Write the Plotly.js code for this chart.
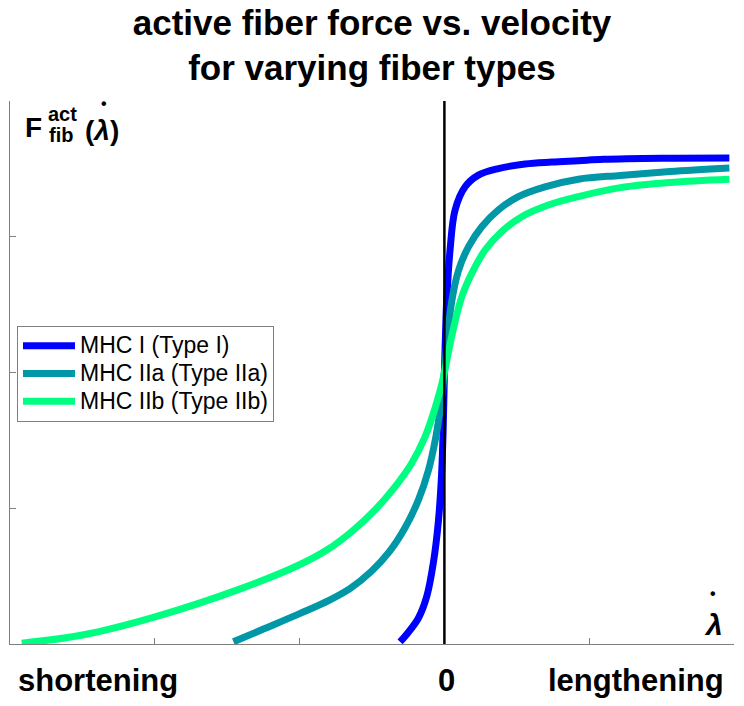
<!DOCTYPE html>
<html>
<head>
<meta charset="utf-8">
<script src="https://cdn.plot.ly/plotly-3.0.1.min.js"></script>
<style>html,body{margin:0;padding:0;background:#fff;}#chart{width:744px;height:706px;}</style>
</head>
<body>
<div id="chart"></div>
<script>
// Series names
const seriesNames = ["MHC I (Type I)", "MHC IIa (Type IIa)", "MHC IIb (Type IIb)"];

// Type I (blue): normalized velocity vs. normalized active force
const typeI_x = [-0.306, -0.26, -0.18, -0.122, -0.076, -0.041, -0.019, -0.008, 0, 0.008, 0.016, 0.039, 0.074, 0.143, 0.235, 0.373, 0.557, 0.741, 0.925, 1.1, 1.5, 1.968];
const typeI_y = [0.008, 0.036, 0.095, 0.175, 0.300, 0.455, 0.630, 0.800, 1.0, 1.15, 1.267, 1.451, 1.599, 1.684, 1.727, 1.751, 1.768, 1.775, 1.780, 1.785, 1.789, 1.790];

// Type IIa (teal)
const typeIIa_x = [-1.457, -1.25, -1.0, -0.8, -0.65, -0.5, -0.38, -0.27, -0.18, -0.11, -0.06, -0.025, 0, 0.016, 0.05, 0.097, 0.166, 0.258, 0.373, 0.511, 0.695, 0.925, 1.215, 1.557, 1.968];
const typeIIa_y = [0.008, 0.055, 0.112, 0.160, 0.205, 0.270, 0.340, 0.430, 0.530, 0.640, 0.760, 0.880, 1.0, 1.10, 1.26, 1.375, 1.463, 1.537, 1.599, 1.648, 1.684, 1.712, 1.726, 1.740, 1.753];

// Type IIb (green)
const typeIIb_x = [-2.919, -2.5, -1.998, -1.4, -1.008, -0.801, -0.64, -0.479, -0.34, -0.226, -0.133, -0.064, -0.019, 0, 0.05, 0.12, 0.189, 0.281, 0.396, 0.534, 0.718, 0.925, 1.215, 1.557, 1.968];
const typeIIb_y = [0.003, 0.033, 0.100, 0.205, 0.290, 0.350, 0.414, 0.494, 0.580, 0.666, 0.764, 0.870, 0.955, 1.0, 1.132, 1.279, 1.365, 1.451, 1.519, 1.574, 1.617, 1.648, 1.681, 1.700, 1.712];

// Tick positions (unlabelled ticks)
const xTicks = [-2, -1, 0, 1];
const yTicks = [0.5, 1, 1.5, 2];

// Axis annotation labels
const xLabels = ["shortening", "0", "lengthening"];

const colors = ["#0000ff", "#0098a6", "#00ff80"];
const FONT = "Liberation Sans, Arial, Helvetica, sans-serif";

const xs = [typeI_x, typeIIa_x, typeIIb_x];
const ys = [typeI_y, typeIIa_y, typeIIb_y];

const traces = seriesNames.map((n, i) => ({
  x: xs[i], y: ys[i], type: "scatter", mode: "lines",
  name: '<span style="font-size:23px">' + n + '</span>',
  line: {color: colors[i], width: 7, shape: "spline", smoothing: 1}
}));

// paper coords helpers (plot area 10..734 x, 101..644 y)
const px = v => (v - 10) / 724;
const py = v => (644 - v) / 543;

const boldFont = (s) => ({family: FONT, size: s, color: "#000", weight: "bold"});
const ann = (text, x, y, size) => ({text, x: px(x), y: py(y), xref: "paper", yref: "paper", showarrow: false, xanchor: "center", yanchor: "middle", font: boldFont(size)});

const annotations = [
  ann(xLabels[0], 98, 680, 31),
  ann(xLabels[1], 446, 680, 31),
  ann(xLabels[2], 636, 680, 31),
  ann("<i>λ</i>", 713, 624, 30),
  ann("•", 713, 593, 16),
  ann("F", 33, 127, 28),
  ann("act", 62, 114, 20),
  ann("fib", 61, 135, 20),
  ann("(<i>λ</i>)", 102, 131, 28),
  ann("•", 104, 103, 16)
];

const layout = {
  width: 744, height: 706,
  margin: {l: 10, r: 10, t: 101, b: 62, pad: 0},
  paper_bgcolor: "#fff", plot_bgcolor: "#fff",
  font: {family: FONT, color: "#000"},
  title: {
    text: "active fiber force vs. velocity<br>for varying fiber types",
    font: {family: FONT, size: 35, color: "#000", weight: "bold"},
    x: 0.5, xanchor: "center", xref: "paper",
    y: 0.951, yanchor: "top", yref: "container"
  },
  xaxis: {
    range: [-3, 2], showgrid: false, zeroline: false,
    showline: true, linecolor: "#808080", linewidth: 1,
    ticks: "inside", ticklen: 6, tickcolor: "#808080",
    tickvals: xTicks, showticklabels: false, fixedrange: true
  },
  yaxis: {
    range: [0, 2], showgrid: false, zeroline: false,
    showline: true, linecolor: "#808080", linewidth: 1,
    ticks: "inside", ticklen: 6, tickcolor: "#808080",
    tickvals: yTicks, showticklabels: false, fixedrange: true
  },
  shapes: [{type: "line", xref: "x", yref: "paper", x0: 0, x1: 0, y0: 0, y1: 1, line: {color: "#000", width: 2.5}, layer: "above"}],
  showlegend: true,
  legend: {
    x: px(17), y: py(326), xanchor: "left", yanchor: "top",
    bgcolor: "#fff", bordercolor: "#808080", borderwidth: 1,
    font: {family: FONT, size: 19, color: "#000"},
    traceorder: "normal", itemwidth: 52
  },
  annotations: annotations
};

Plotly.newPlot("chart", traces, layout, {displayModeBar: false, staticPlot: true});
</script>
</body>
</html>
